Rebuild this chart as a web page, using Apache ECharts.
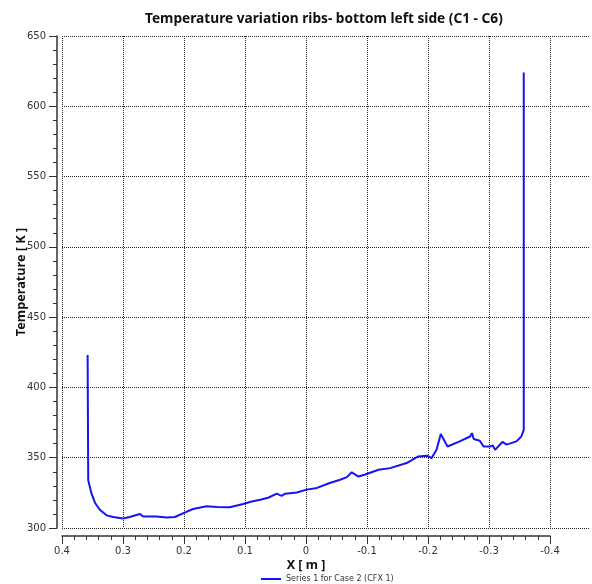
<!DOCTYPE html>
<html>
<head>
<meta charset="utf-8">
<script src="https://cdn.jsdelivr.net/npm/echarts@6/dist/echarts.min.js"></script>
<style>
  html, body { margin: 0; padding: 0; background: #fff; }
  #chart { width: 592px; height: 584px; }
</style>
</head>
<body>
<div id="chart"></div>
<script>
// x position along the rib [m] and temperature [K]
const xValues = [
  0.358, 0.357, 0.352, 0.346, 0.338, 0.327, 0.316, 0.300, 0.289, 0.278,
  0.272, 0.267, 0.245, 0.228, 0.215, 0.198, 0.185, 0.163, 0.146, 0.125,
  0.103, 0.089, 0.075, 0.062, 0.048, 0.040, 0.034, 0.015, -0.001, -0.018,
  -0.039, -0.056, -0.067, -0.075, -0.086, -0.097, -0.119, -0.138, -0.165, -0.184,
  -0.198, -0.206, -0.214, -0.221, -0.232, -0.252, -0.269, -0.272, -0.275, -0.285,
  -0.291, -0.302, -0.306, -0.310, -0.322, -0.329, -0.345, -0.353, -0.357, -0.357
]
const tempValues = [
  423, 334, 325, 318, 313, 309, 307.8, 306.8, 307.8, 309.2,
  310, 308.2, 308.2, 307.5, 307.8, 311.1, 313.5, 315.4, 315, 314.7,
  317.1, 318.9, 320.1, 321.5, 324.4, 322.9, 324.4, 325.2, 327.3, 328.5,
  332, 334.3, 336.2, 339.6, 336.6, 338.1, 341.4, 342.6, 346.2, 350.9,
  351.4, 349.8, 355.6, 366.8, 358, 361.6, 365.1, 367.5, 363.3, 362.1,
  358, 358, 358.8, 355.6, 361.2, 359.3, 361.6, 365.1, 369.8, 624
]
const seriesName = 'Series 1 for Case 2 (CFX 1)'

const textColor = '#333'
const gridLine = { show: true, lineStyle: { color: '#222', width: 1, type: [1, 1] } }

const chart = echarts.init(document.getElementById('chart'), null, { renderer: 'canvas' })

chart.setOption({
  animation: false,
  backgroundColor: '#fff',
  title: {
    text: 'Temperature variation ribs- bottom left side (C1 - C6)',
    left: 140,
    top: 7,
    textStyle: { fontFamily: 'Noto Sans', fontSize: 13.7, fontWeight: 'bold', color: '#111' }
  },
  legend: {
    top: 570,
    left: 256,
    icon: 'rect',
    itemWidth: 20,
    itemHeight: 2,
    itemGap: 8,
    textStyle: { fontFamily: 'DejaVu Sans', fontSize: 8, color: textColor },
    data: [seriesName]
  },
  grid: [
    { left: 62, right: 2, top: 36, bottom: 56, outerBoundsMode: 'none', containLabel: false },
    { left: 62, width: 488, top: 36, bottom: 56, outerBoundsMode: 'none', containLabel: false }
  ],
  xAxis: [
    {
      gridIndex: 0, type: 'value', inverse: true, min: -0.4656, max: 0.4, show: false
    },
    {
      gridIndex: 1, type: 'value', inverse: true, min: -0.4, max: 0.4, interval: 0.1,
      offset: 8,
      name: 'X [ m ]', nameLocation: 'middle', nameGap: 23, nameMoveOverlap: false,
      nameTextStyle: { fontFamily: 'Noto Sans', fontSize: 12.5, fontWeight: 'bold', color: '#111' },
      axisLine: { show: true, onZero: false, lineStyle: { color: textColor, width: 1.5 } },
      axisTick: { show: true, length: 8, lineStyle: { color: textColor } },
      minorTick: { show: true, splitNumber: 5, length: 4, lineStyle: { color: textColor } },
      axisLabel: {
        fontFamily: 'DejaVu Sans', fontSize: 10, color: textColor, margin: 10,
        formatter: (v) => String(Math.round(v * 10) / 10)
      },
      splitLine: gridLine
    }
  ],
  yAxis: [
    {
      gridIndex: 0, type: 'value', min: 300, max: 650, interval: 50,
      offset: 5,
      name: 'Temperature [ K ]', nameLocation: 'middle', nameGap: 29.5, nameMoveOverlap: false,
      nameTextStyle: { fontFamily: 'Noto Sans', fontSize: 12.7, fontWeight: 'bold', color: '#111' },
      axisLine: { show: true, onZero: false, lineStyle: { color: textColor, width: 1.5 } },
      axisTick: { show: true, length: 8, lineStyle: { color: textColor } },
      minorTick: { show: true, splitNumber: 5, length: 4, lineStyle: { color: textColor } },
      axisLabel: { fontFamily: 'DejaVu Sans', fontSize: 10, color: textColor, margin: 11 },
      splitLine: gridLine
    },
    { gridIndex: 1, type: 'value', min: 300, max: 650, show: false }
  ],
  series: [
    {
      name: seriesName,
      type: 'line',
      xAxisIndex: 0,
      yAxisIndex: 0,
      showSymbol: false,
      symbol: 'none',
      color: '#1414f5',
      lineStyle: { color: '#1414f5', width: 2 },
      data: xValues.map((x, i) => [x, tempValues[i]])
    }
  ]
})
</script>
</body>
</html>
